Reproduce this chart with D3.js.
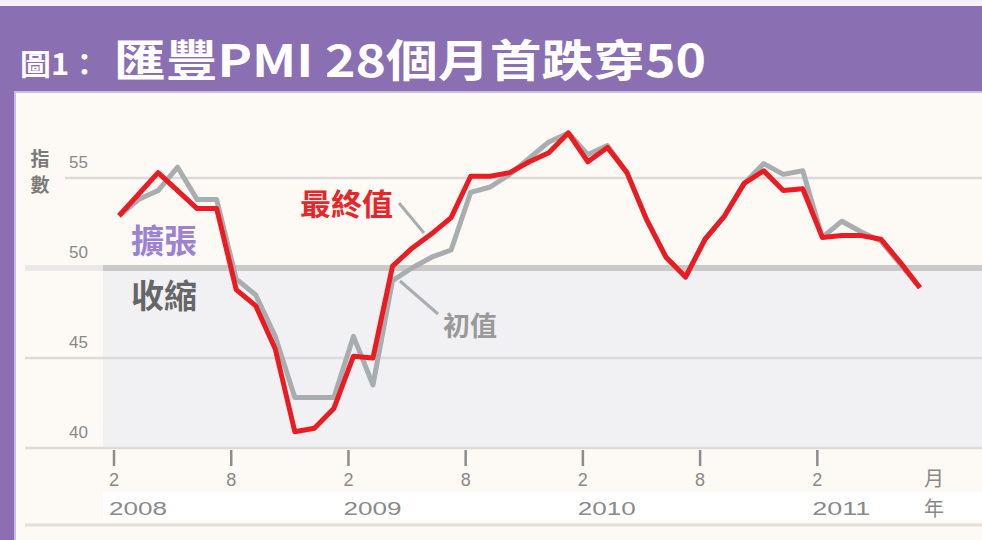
<!DOCTYPE html>
<html><head><meta charset="utf-8">
<script src="https://cdn.jsdelivr.net/npm/d3@7"></script>
<style>html,body{margin:0;padding:0;background:#fff}svg{display:block}</style>
</head><body>
<svg id="c" width="982" height="540"></svg>
<script>
const months = ["2008-02","2008-03","2008-04","2008-05","2008-06","2008-07","2008-08","2008-09","2008-10","2008-11","2008-12",
"2009-01","2009-02","2009-03","2009-04","2009-05","2009-06","2009-07","2009-08","2009-09","2009-10","2009-11","2009-12",
"2010-01","2010-02","2010-03","2010-04","2010-05","2010-06","2010-07","2010-08","2010-09","2010-10","2010-11","2010-12",
"2011-01","2011-02","2011-03","2011-04","2011-05","2011-06","2011-07"];
const finalValues = [52.9,54.1,55.3,54.3,53.3,53.3,48.8,47.9,45.5,40.9,41.1,
42.2,45.1,45.0,50.1,51.1,51.9,52.8,55.1,55.1,55.3,55.9,56.4,
57.5,55.9,56.7,55.3,52.7,50.6,49.5,51.6,52.9,54.7,55.4,54.3,
54.4,51.7,51.8,51.8,51.6,50.3,48.9];
const flashValues = [52.9,53.8,54.3,55.6,53.8,53.8,49.4,48.5,46.2,42.8,42.8,
42.8,46.2,43.5,49.3,50.0,50.6,51.0,54.2,54.5,55.2,56.1,57.0,
57.5,56.3,56.8,55.3,52.7,50.6,49.5,51.6,52.9,54.7,55.8,55.2,
55.4,51.7,52.6,52.0,51.5,50.2,48.9];
const yTicks = [40,45,50,55];
const monthTickLabels = ["2","8","2","8","2","8","2"];
const monthTickIdx = [0,6,12,18,24,30,36];
const yearLabels = ["2008","2009","2010","2011"];
const yearTickIdx = [0,12,24,36];
const title1 = "圖1：";
const title2 = "匯豐PMI 28個月首跌穿50";

const svg = d3.select("#c");
const W = 982, H = 540;
const CJK = "'Noto Sans CJK TC','Noto Sans CJK SC',sans-serif";

// frame
svg.append("rect").attr("x",0).attr("y",0).attr("width",W).attr("height",H).attr("fill","#8a6fb2");
svg.append("rect").attr("x",0).attr("y",0).attr("width",W).attr("height",6).attr("fill","#f3f0f7");
svg.append("rect").attr("x",14).attr("y",91).attr("width",W-14).attr("height",H-91).attr("fill","#c8bedd");
svg.append("rect").attr("x",16).attr("y",93).attr("width",W-16).attr("height",H-93).attr("fill","#fdf9f4");

// title
svg.append("text").attr("x",20).attr("y",75).text(title1)
  .attr("font-family",CJK).attr("font-weight",700).attr("font-size",30).attr("fill","#fff")
  .attr("textLength",80).attr("lengthAdjust","spacingAndGlyphs");
svg.append("text").attr("x",114).attr("y",77).text(title2)
  .attr("font-family",CJK).attr("font-weight",700).attr("font-size",44).attr("fill","#fff")
  .attr("textLength",592).attr("lengthAdjust","spacingAndGlyphs");

const x = d3.scaleLinear().domain([0, months.length-1]).range([119, 920]);
const y = d3.scaleLinear().domain([40,55]).range([448,178]);
const tickShift = -5;
const plotL = 103;

// contraction zone
svg.append("rect").attr("x",plotL).attr("y",y(50)).attr("width",W-plotL).attr("height",y(40)-y(50)).attr("fill","#f1f1f4");

// grid lines
yTicks.forEach(v=>{
  if(v===50){
    svg.append("rect").attr("x",25).attr("y",y(50)-3).attr("width",plotL-25).attr("height",6).attr("fill","#ebe9e8");
    svg.append("rect").attr("x",plotL).attr("y",y(50)-3).attr("width",W-plotL).attr("height",6).attr("fill","#c9c9ca");
  } else {
    svg.append("line").attr("x1", v===55?65:25).attr("x2",W).attr("y1",y(v)).attr("y2",y(v))
      .attr("stroke","#dddbd9").attr("stroke-width",2.5);
  }
  svg.append("text").attr("x",88).attr("y",y(v)-10).attr("text-anchor","end").text(v)
    .attr("font-family","Liberation Sans, Arial, sans-serif").attr("font-size",17).attr("fill","#8a8a8a");
});
// y-axis title vertical
["指","數"].forEach((ch,i)=>{
  svg.append("text").attr("x",40).attr("y",166+i*26).attr("text-anchor","middle").text(ch)
    .attr("font-family",CJK).attr("font-weight",700).attr("font-size",19).attr("fill","#7a7a7a");
});

// year band
svg.append("rect").attr("x",plotL).attr("y",492).attr("width",W-plotL).attr("height",28).attr("fill","#ffffff");
svg.append("line").attr("x1",25).attr("x2",W).attr("y1",525).attr("y2",525).attr("stroke","#e3dfdc").attr("stroke-width",3);

// month ticks
monthTickIdx.forEach((idx,i)=>{
  const tx = x(idx)+tickShift;
  svg.append("line").attr("x1",tx).attr("x2",tx).attr("y1",450).attr("y2",466).attr("stroke","#8c8c8c").attr("stroke-width",2.5);
  svg.append("text").attr("x",tx).attr("y",486).attr("text-anchor","middle").text(monthTickLabels[i])
    .attr("font-family","Liberation Sans, Arial, sans-serif").attr("font-size",18).attr("fill","#8a8a8a");
});
yearTickIdx.forEach((idx,i)=>{
  svg.append("text").attr("x",x(idx)+tickShift-5).attr("y",515).text(yearLabels[i])
    .attr("font-family","Liberation Sans, Arial, sans-serif").attr("font-size",18).attr("fill","#8a8a8a")
    .attr("textLength",58).attr("lengthAdjust","spacingAndGlyphs");
});
svg.append("text").attr("x",934).attr("y",486).attr("text-anchor","middle").text("月")
  .attr("font-family",CJK).attr("font-size",20).attr("fill","#888");
svg.append("text").attr("x",934).attr("y",516).attr("text-anchor","middle").text("年")
  .attr("font-family",CJK).attr("font-size",20).attr("fill","#888");

// zone labels
svg.append("text").attr("x",131).attr("y",253).text("擴張")
  .attr("font-family",CJK).attr("font-weight",700).attr("font-size",33).attr("fill","#9b82d2");
svg.append("text").attr("x",131).attr("y",308).text("收縮")
  .attr("font-family",CJK).attr("font-weight",700).attr("font-size",33).attr("fill","#666");

// lines
const line = d3.line().x((d,i)=>x(i)).y(d=>y(d)).curve(d3.curveLinear);
svg.append("path").attr("d",line(flashValues)).attr("fill","none").attr("stroke","#a8adb0")
  .attr("stroke-width",5).attr("stroke-linejoin","round");
svg.append("path").attr("d",line(finalValues)).attr("fill","none").attr("stroke","#ea1c22")
  .attr("stroke-width",5).attr("stroke-linejoin","round");

// series labels with leader lines
svg.append("line").attr("x1",399).attr("y1",203).attr("x2",424).attr("y2",233).attr("stroke","#a8adb0").attr("stroke-width",3);
svg.append("text").attr("x",300).attr("y",215).text("最終值")
  .attr("font-family",CJK).attr("font-weight",700).attr("font-size",30).attr("fill","#e8262a")
  .attr("textLength",93).attr("lengthAdjust","spacingAndGlyphs");
svg.append("line").attr("x1",400).attr("y1",281).attr("x2",438).attr("y2",314).attr("stroke","#a8adb0").attr("stroke-width",3);
svg.append("text").attr("x",443).attr("y",336).text("初值")
  .attr("font-family",CJK).attr("font-weight",700).attr("font-size",27).attr("fill","#999");
</script>
</body></html>
